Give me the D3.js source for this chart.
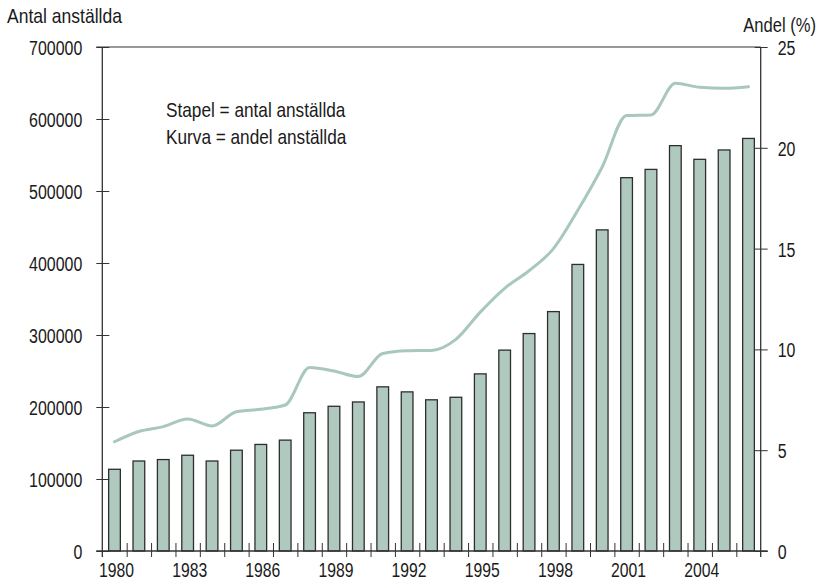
<!DOCTYPE html>
<html>
<head>
<meta charset="utf-8">
<script src="https://cdn.jsdelivr.net/npm/d3@7"></script>
<style>
  html, body { margin: 0; padding: 0; background: #fff; }
  svg text { font-family: "Liberation Sans", Arial, sans-serif; fill: #1a1a1a; }
</style>
</head>
<body>
<svg id="chart" width="819" height="581"></svg>
<script>
// Employees per year (bars) and their share in percent (line)
const years = [1980, 1981, 1982, 1983, 1984, 1985, 1986, 1987, 1988, 1989,
               1990, 1991, 1992, 1993, 1994, 1995, 1996, 1997, 1998, 1999,
               2000, 2001, 2002, 2003, 2004, 2005, 2006];
const employees = [113500, 125000, 127000, 133000, 125000, 140000, 148000, 154000, 192000, 201000,
                   207000, 228000, 221000, 210000, 213500, 246000, 279000, 302000, 332500, 398000,
                   446000, 518500, 530000, 563000, 544000, 557000, 573000];
const sharePct = [5.42, 5.93, 6.17, 6.55, 6.2, 6.91, 7.03, 7.24, 9.1, 8.93,
                  8.65, 9.8, 9.93, 9.95, 10.5, 11.85, 13.03, 13.9, 15.0, 16.9,
                  19.05, 21.6, 21.63, 23.2, 23.0, 22.95, 23.03];
const leftTicks = [0, 100000, 200000, 300000, 400000, 500000, 600000, 700000];
const rightTicks = [0, 5, 10, 15, 20, 25];
const yearLabels = [1980, 1983, 1986, 1989, 1992, 1995, 1998, 2001, 2004];

const svg = d3.select("#chart");
const X0 = 102.3, X1 = 760.7, Y0 = 551, Y1 = 47;
const axisColor = "#333";
const FS = 21;

// Narrow the glyphs horizontally around each text's own x position
function condense(sel, sx) {
  sel.each(function () {
    const t = d3.select(this);
    const xv = +(t.attr("x") || 0);
    const yv = +(t.attr("y") || 0);
    t.attr("x", 0).attr("y", 0)
     .attr("transform", `translate(${xv},${yv}) scale(${sx},1)`);
  });
}

const x = d3.scaleBand().domain(years).range([X0, X1]).padding(0);
const yL = d3.scaleLinear().domain([0, 700000]).range([Y0, Y1]);
const yR = d3.scaleLinear().domain([0, 25]).range([Y0, Y1]);
const barW = x.bandwidth() * 0.48;

// Bars
svg.append("g").selectAll("rect").data(years).join("rect")
  .attr("x", (d) => x(d) + (x.bandwidth() - barW) / 2)
  .attr("y", (d, i) => yL(employees[i]))
  .attr("width", barW)
  .attr("height", (d, i) => Y0 - yL(employees[i]))
  .attr("fill", "#b0c9bf")
  .attr("stroke", "#2e2e2e")
  .attr("stroke-width", 1.3);

// Share line
const line = d3.line()
  .x((d, i) => x(years[i]) + x.bandwidth() / 2)
  .y((d) => yR(d))
  .curve(d3.curveMonotoneX);
svg.append("path").datum(sharePct)
  .attr("d", line)
  .attr("fill", "none")
  .attr("stroke", "#a8c8bb")
  .attr("stroke-width", 3)
  .attr("stroke-linejoin", "round")
  .attr("stroke-linecap", "round");

// Frame: top and bottom rules
svg.append("line").attr("x1", X0 - 6).attr("x2", X1).attr("y1", Y1).attr("y2", Y1)
  .attr("stroke", axisColor).attr("stroke-width", 1.2);
svg.append("line").attr("x1", X0 - 6).attr("x2", X1 + 7).attr("y1", Y0).attr("y2", Y0)
  .attr("stroke", axisColor).attr("stroke-width", 1.6);

// Left axis (label offset = tick size + padding = 20px from the axis)
const gL = svg.append("g").attr("transform", `translate(${X0},0)`)
  .call(d3.axisLeft(yL).tickValues(leftTicks).tickFormat(d3.format("d")).tickSize(6).tickPadding(14));
gL.select(".domain").remove();
gL.selectAll(".tick line").attr("x1", 7).attr("x2", -6).attr("stroke", axisColor);
gL.selectAll(".tick text").attr("font-size", FS).attr("font-family", null).attr("fill", null)
  .attr("dy", null).attr("y", 7.5);
condense(gL.selectAll(".tick text"), 0.76);
svg.append("line").attr("x1", X0).attr("x2", X0).attr("y1", Y1).attr("y2", Y0 + 6)
  .attr("stroke", axisColor).attr("stroke-width", 1.3);

// Right axis
const gR = svg.append("g").attr("transform", `translate(${X1},0)`)
  .call(d3.axisRight(yR).tickValues(rightTicks).tickSize(7).tickPadding(10));
gR.select(".domain").remove();
gR.selectAll(".tick line").attr("x1", -6).attr("x2", 7).attr("stroke", axisColor);
gR.selectAll(".tick text").attr("font-size", FS).attr("font-family", null).attr("fill", null)
  .attr("dy", null).attr("y", 7.5);
condense(gR.selectAll(".tick text"), 0.76);
svg.append("line").attr("x1", X1).attr("x2", X1).attr("y1", Y1).attr("y2", Y0 + 6)
  .attr("stroke", axisColor).attr("stroke-width", 1.3);

// Bottom axis: ticks at year boundaries, labels every third year
const xEdge = d3.scaleLinear().domain([0, years.length]).range([X0, X1]);
const gB = svg.append("g").attr("transform", `translate(0,${Y0})`)
  .call(d3.axisBottom(xEdge).tickValues(d3.range(1, years.length)).tickFormat("").tickSize(6));
gB.select(".domain").remove();
gB.selectAll(".tick line").attr("y1", -8).attr("y2", 6).attr("stroke", axisColor);

const yearText = svg.append("g").selectAll("text").data(yearLabels).join("text")
  .attr("x", (d) => x(d) + x.bandwidth() / 2 + 2)
  .attr("y", 577)
  .attr("text-anchor", "middle")
  .attr("font-size", FS)
  .text((d) => d);
condense(yearText, 0.75);

// Axis titles
condense(svg.append("text").attr("x", 7).attr("y", 23).attr("font-size", FS).text("Antal anställda"), 0.835);
condense(svg.append("text").attr("x", 816).attr("y", 31.5).attr("text-anchor", "end")
  .attr("font-size", FS).text("Andel (%)"), 0.79);

// Legend note
condense(svg.append("text").attr("x", 166).attr("y", 117).attr("font-size", FS)
  .text("Stapel = antal anställda"), 0.82);
condense(svg.append("text").attr("x", 166).attr("y", 143.5).attr("font-size", FS)
  .text("Kurva = andel anställda"), 0.82);
</script>
</body>
</html>
